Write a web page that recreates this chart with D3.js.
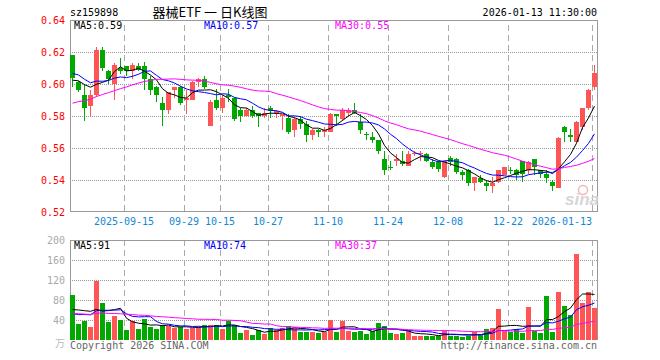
<!DOCTYPE html>
<html>
<head>
<meta charset="utf-8">
<script src="https://cdn.jsdelivr.net/npm/d3@7"></script>
<style>
  body { margin: 0; background: #fff; }
</style>
</head>
<body>
<script>
// trading days shown on the chart
const dates = [
  '2025-09-02','2025-09-03','2025-09-04','2025-09-05','2025-09-08','2025-09-09','2025-09-10','2025-09-11','2025-09-12','2025-09-15',
  '2025-09-16','2025-09-17','2025-09-18','2025-09-19','2025-09-22','2025-09-23','2025-09-24','2025-09-25','2025-09-26','2025-09-29',
  '2025-09-30','2025-10-09','2025-10-10','2025-10-13','2025-10-14','2025-10-15','2025-10-16','2025-10-17','2025-10-20','2025-10-21',
  '2025-10-22','2025-10-23','2025-10-24','2025-10-27','2025-10-28','2025-10-29','2025-10-30','2025-10-31','2025-11-03','2025-11-04',
  '2025-11-05','2025-11-06','2025-11-07','2025-11-10','2025-11-11','2025-11-12','2025-11-13','2025-11-14','2025-11-17','2025-11-18',
  '2025-11-19','2025-11-20','2025-11-21','2025-11-24','2025-11-25','2025-11-26','2025-11-27','2025-11-28','2025-12-01','2025-12-02',
  '2025-12-03','2025-12-04','2025-12-05','2025-12-08','2025-12-09','2025-12-10','2025-12-11','2025-12-12','2025-12-15','2025-12-16',
  '2025-12-17','2025-12-18','2025-12-19','2025-12-22','2025-12-23','2025-12-24','2025-12-25','2025-12-26','2025-12-29','2025-12-30',
  '2025-12-31','2026-01-05','2026-01-06','2026-01-07','2026-01-08','2026-01-09','2026-01-12','2026-01-13'
];

const open = [
  0.618,0.601,0.593,0.586,0.593,0.621,0.608,0.600,0.610,0.611,
  0.608,0.611,0.611,0.603,0.598,0.588,0.584,0.596,0.598,0.590,
  0.590,0.601,0.603,0.574,0.590,0.585,0.593,0.591,0.584,0.580,
  0.584,0.582,0.580,0.585,0.582,0.580,0.579,0.571,0.578,0.575,
  0.568,0.571,0.570,0.570,0.581,0.578,0.582,0.584,0.576,0.569,
  0.567,0.565,0.553,0.548,0.552,0.552,0.549,0.556,0.556,0.556,
  0.551,0.551,0.542,0.554,0.553,0.545,0.546,0.538,0.541,0.538,
  0.536,0.539,0.543,0.5465,0.546,0.552,0.546,0.553,0.546,0.544,
  0.539,0.535,0.573,0.568,0.564,0.573,0.585,0.598
];
const high = [
  0.618,0.602,0.600,0.596,0.623,0.623,0.609,0.613,0.616,0.611,
  0.613,0.613,0.614,0.605,0.599,0.592,0.595,0.598,0.599,0.596,
  0.602,0.604,0.605,0.590,0.597,0.593,0.597,0.592,0.585,0.585,
  0.586,0.582,0.585,0.586,0.584,0.581,0.581,0.579,0.580,0.577,
  0.572,0.572,0.573,0.582,0.581,0.585,0.585,0.588,0.581,0.570,
  0.570,0.565,0.558,0.552,0.556,0.558,0.558,0.558,0.558,0.557,
  0.553,0.552,0.552,0.555,0.554,0.546,0.547,0.542,0.543,0.540,
  0.542,0.546,0.548,0.548,0.547,0.552,0.552,0.553,0.546,0.546,
  0.540,0.567,0.574,0.572,0.577,0.585,0.597,0.612
];
const low = [
  0.598,0.595,0.577,0.580,0.592,0.608,0.600,0.590,0.606,0.605,
  0.603,0.608,0.596,0.593,0.589,0.574,0.581,0.591,0.587,0.581,
  0.590,0.598,0.597,0.574,0.584,0.582,0.589,0.577,0.576,0.580,
  0.579,0.573,0.579,0.579,0.579,0.571,0.569,0.567,0.572,0.564,
  0.565,0.567,0.567,0.570,0.574,0.577,0.580,0.581,0.569,0.565,
  0.563,0.556,0.543,0.546,0.549,0.549,0.549,0.555,0.552,0.551,
  0.547,0.545,0.541,0.549,0.544,0.540,0.536,0.533,0.538,0.533,
  0.532,0.538,0.543,0.544,0.540,0.539,0.544,0.543,0.541,0.538,
  0.533,0.535,0.564,0.564,0.564,0.571,0.584,0.596
];
const close = [
  0.604,0.596,0.585,0.593,0.621,0.610,0.603,0.612,0.608,0.608,
  0.612,0.609,0.603,0.596,0.593,0.584,0.595,0.598,0.588,0.591,
  0.601,0.603,0.598,0.589,0.585,0.591,0.592,0.578,0.580,0.584,
  0.580,0.580,0.582,0.583,0.583,0.581,0.570,0.578,0.575,0.568,
  0.571,0.570,0.571,0.581,0.580,0.584,0.584,0.582,0.571,0.568,
  0.565,0.558,0.546,0.5478,0.553,0.550,0.556,0.557,0.557,0.552,
  0.548,0.547,0.552,0.551,0.545,0.543,0.538,0.542,0.539,0.536,
  0.538,0.546,0.548,0.546,0.543,0.544,0.551,0.548,0.544,0.541,
  0.536,0.566,0.570,0.567,0.576,0.585,0.596,0.607
];
// volume in 万
const volume = [
  90,32,38,27,119,74,36,48,40,20,
  38,22,42,27,22,30,28,25,27,22,
  25,27,31,30,30,22,38,30,15,21,
  10,20,12,25,20,25,28,25,17,17,
  17,15,17,40,17,39,19,17,19,12,
  19,35,28,15,12,15,19,8,9,9,
  9,8,19,9,9,7,9,17,11,22,
  24,63,19,17,23,15,66,19,15,88,
  17,96,68,50,172,74,96,64
];
// estimated history before the window, only used to seed the moving averages
const priorClose = [
  0.566,0.568,0.565,0.570,0.572,0.569,0.574,0.571,0.575,
  0.573,0.576,0.572,0.578,0.571,
  0.585,0.590,0.594,0.598,0.600,0.606,
  0.606,0.612,0.615,0.610,0.6115,
  0.598,0.597,0.601,0.612
];
const priorVolume = [
  45,60,52,48,55,62,50,58,47,55,
  60,52,65,50,55,48,58,47,50,43,
  55,35,34,35,66,
  37,45,33,100
];

const priceTicks = [0.64, 0.62, 0.60, 0.58, 0.56, 0.54, 0.52];
const volumeTicks = [200, 160, 120, 80, 40];
const labelDates = ['2025-09-15','2025-09-29','2025-10-15','2025-10-27','2025-11-10','2025-11-24','2025-12-08','2025-12-22','2026-01-13'];
const labelTexts = ['2025-09-15','09-29','10-15','10-27','11-10','11-24','12-08','12-22','2026-01-13'];
const maPeriods = [5, 10, 30];
const maColors = ['#000000', '#0000ff', '#ff00ff'];

const upColor = '#ff5555';
const downColor = '#00a800';
const mono = '"DejaVu Sans Mono", monospace';

function movingAvg(prior, values, n) {
  const all = prior.concat(values);
  return values.map((v, i) => d3.mean(all.slice(prior.length + i - n + 1, prior.length + i + 1)));
}

const left = 70, right = 597;
const svg = d3.select('body').append('svg')
  .attr('width', 660).attr('height', 360)
  .style('font-family', mono).style('font-size', '10px');

const x = d3.scaleBand().domain(dates).range([left, left + dates.length * 6]);
const bw = x.bandwidth();
const yP = d3.scaleLinear().domain([0.52, 0.64]).range([212, 20]);
const yV = d3.scaleLinear().domain([0, 200]).range([340, 240]);

const rows = dates.map((d, i) => ({ d, o: open[i], h: high[i], l: low[i], c: close[i], v: volume[i] }));

// grid
const grid = svg.append('g').attr('shape-rendering', 'crispEdges');
grid.selectAll('.hp').data(priceTicks.slice(1, -1)).join('line')
  .attr('x1', left).attr('x2', right)
  .attr('y1', d => Math.round(yP(d)) + 0.5).attr('y2', d => Math.round(yP(d)) + 0.5)
  .attr('stroke', '#999').attr('stroke-dasharray', '1,1');
grid.selectAll('.hv').data(volumeTicks.slice(1)).join('line')
  .attr('x1', left).attr('x2', right)
  .attr('y1', d => Math.round(yV(d)) + 0.5).attr('y2', d => Math.round(yV(d)) + 0.5)
  .attr('stroke', '#999').attr('stroke-dasharray', '1,1');
labelDates.forEach(d => {
  const gx = x(d) + 0.5;
  grid.append('line').attr('x1', gx).attr('x2', gx).attr('y1', 20).attr('y2', 212)
    .attr('stroke', '#aaa').attr('stroke-dasharray', '6,4').attr('stroke-dashoffset', 5);
  grid.append('line').attr('x1', gx).attr('x2', gx).attr('y1', 240).attr('y2', 340)
    .attr('stroke', '#aaa').attr('stroke-dasharray', '6,4');
});

// frames
const frame = svg.append('g').attr('shape-rendering', 'crispEdges').attr('fill', 'none').attr('stroke', '#999');
frame.append('rect').attr('x', left + 0.5).attr('y', 20.5).attr('width', right - left).attr('height', 191);
frame.append('path').attr('d', `M${left + 0.5},340V240.5H${right + 0.5}V340`);

// y axes
const ya = svg.append('g').attr('transform', `translate(${left},0)`)
  .call(d3.axisLeft(yP).tickValues(priceTicks).tickSize(0).tickPadding(5).tickFormat(d3.format('.2f')));
ya.select('.domain').remove();
ya.selectAll('text').attr('fill', '#ff0000').style('font-family', mono).style('font-size', '10px');

const yva = svg.append('g').attr('transform', `translate(${left},0)`)
  .call(d3.axisLeft(yV).tickValues(volumeTicks).tickSize(0).tickPadding(5));
yva.select('.domain').remove();
yva.selectAll('text').attr('fill', '#aaa').style('font-family', mono).style('font-size', '10px');
svg.append('text').attr('x', left - 5).attr('y', 347).attr('text-anchor', 'end')
  .attr('fill', '#bbb').style('font-family', '"Noto Sans CJK SC"').text('万');

// x labels
svg.append('g').selectAll('text').data(labelDates).join('text')
  .attr('x', d => x(d))
  .attr('y', 225)
  .attr('text-anchor', (d, i) => i === labelDates.length - 1 ? 'end' : 'middle')
  .attr('fill', '#1188d8')
  .text((d, i) => labelTexts[i]);

// candles
const cg = svg.append('g').attr('shape-rendering', 'crispEdges');
cg.selectAll('line').data(rows).join('line')
  .attr('x1', r => x(r.d) + 2.5).attr('x2', r => x(r.d) + 2.5)
  .attr('y1', r => yP(r.h)).attr('y2', r => yP(r.l))
  .attr('stroke', r => r.c >= r.o ? upColor : downColor);
cg.selectAll('rect').data(rows).join('rect')
  .attr('x', r => x(r.d)).attr('width', bw - 1)
  .attr('y', r => yP(Math.max(r.o, r.c)))
  .attr('height', r => Math.max(1, Math.abs(yP(r.o) - yP(r.c))))
  .attr('fill', r => r.c >= r.o ? upColor : downColor);

// volume bars
svg.append('g').attr('shape-rendering', 'crispEdges')
  .selectAll('rect').data(rows).join('rect')
  .attr('x', r => x(r.d)).attr('width', bw - 1)
  .attr('y', r => yV(r.v)).attr('height', r => yV(0) - yV(r.v))
  .attr('fill', r => r.c >= r.o ? upColor : downColor);

// moving averages
const priceMA = maPeriods.map(n => movingAvg(priorClose, close, n));
const volMA = maPeriods.map(n => movingAvg(priorVolume, volume, n));
const lineP = d3.line().x((v, i) => x(dates[i]) + 2.5).y(v => yP(v));
const lineV = d3.line().x((v, i) => x(dates[i]) + 2.5).y(v => yV(v));
maPeriods.forEach((n, k) => {
  svg.append('path').attr('d', lineP(priceMA[k])).attr('fill', 'none').attr('stroke', maColors[k]).attr('stroke-width', 1);
  svg.append('path').attr('d', lineV(volMA[k])).attr('fill', 'none').attr('stroke', maColors[k]).attr('stroke-width', 1);
});

// legends
const legendX = [74, 204, 335];
maPeriods.forEach((n, k) => {
  svg.append('text').attr('x', legendX[k]).attr('y', 29).attr('fill', maColors[k])
    .text(`MA${n}:${priceMA[k][priceMA[k].length - 1].toFixed(2)}`);
  svg.append('text').attr('x', legendX[k]).attr('y', 249).attr('fill', maColors[k])
    .text(`MA${n}:${Math.round(volMA[k][volMA[k].length - 1])}`);
});

// header
svg.append('text').attr('x', left).attr('y', 16).attr('fill', '#000').text('sz159898');
svg.append('text').attr('x', 210).attr('y', 16.5).attr('text-anchor', 'middle').attr('fill', '#000')
  .style('font-family', '"Noto Sans CJK SC"').style('font-size', '13px').text('器械ETF 一 日K线图');
svg.append('text').attr('x', right).attr('y', 16).attr('text-anchor', 'end').attr('fill', '#000').text('2026-01-13 11:30:00');

// watermark
svg.append('circle').attr('cx', 583).attr('cy', 190).attr('r', 4.5).attr('fill', 'none').attr('stroke', '#f2b8b8').attr('stroke-width', 1.5);
svg.append('text').attr('x', 565).attr('y', 205).attr('fill', '#d6d6d6')
  .style('font-family', 'Arial, "Liberation Sans"').style('font-size', '17px').style('font-style', 'italic').style('font-weight', 'bold')
  .text('sina');

// footer
svg.append('text').attr('x', left).attr('y', 349).attr('fill', '#666').text('Copyright 2026 SINA.COM');
svg.append('text').attr('x', right).attr('y', 349).attr('text-anchor', 'end').attr('fill', '#666').text('http://finance.sina.com.cn');
</script>
</body>
</html>
